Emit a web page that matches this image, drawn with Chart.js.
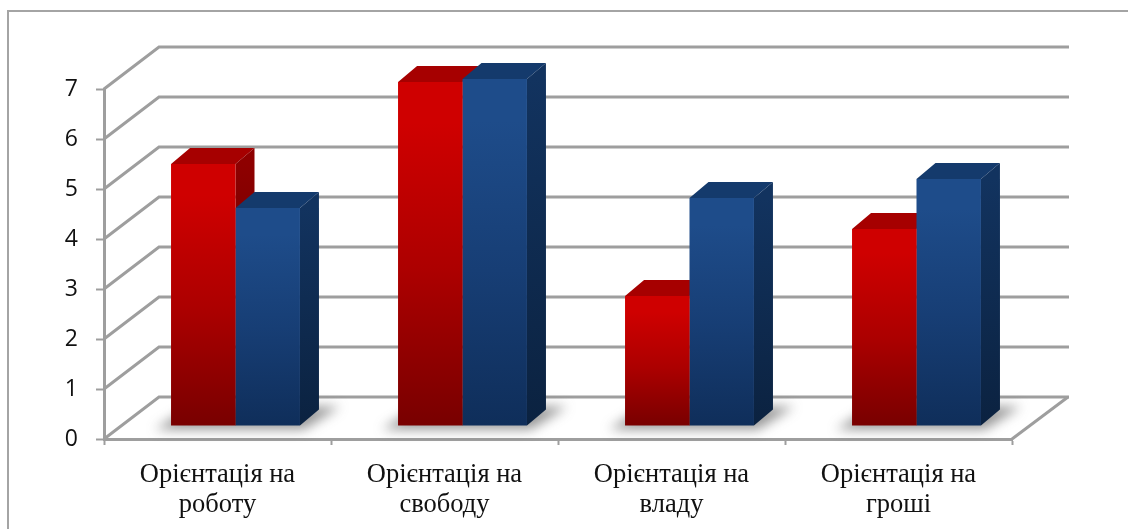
<!DOCTYPE html>
<html>
<head>
<meta charset="utf-8">
<style>
  html, body { margin: 0; padding: 0; background: #fff; }
  #wrap { width: 1128px; height: 529px; }
</style>
<script src="https://cdn.jsdelivr.net/npm/chart.js@4"></script>
</head>
<body>
<div id="wrap"><canvas id="barChart" width="1128" height="529"></canvas></div>
<script>
const categories = [
  ["Орієнтація на", "роботу"],
  ["Орієнтація на", "свободу"],
  ["Орієнтація на", "владу"],
  ["Орієнтація на", "гроші"]
];
const redValues = [5.24, 6.88, 2.6, 3.94];
const blueValues = [4.36, 6.94, 4.56, 4.94];

const lineGrey = "#9e9e9e";

// 3d look: how far the back wall and the bars sit from the front plane
const wallX = 55, wallY = 42;
const barShiftX = 18, barShiftY = 13;
const depthX = 19, depthY = 16;

const faces = [
  { cap: "#a60000", sideTop: "#8e0000", sideBottom: "#520000" },
  { cap: "#143a6c", sideTop: "#12335f", sideBottom: "#0b2240" }
];

function poly(ctx, pts, fill) {
  ctx.beginPath();
  pts.forEach((p, i) => (i ? ctx.lineTo(p[0], p[1]) : ctx.moveTo(p[0], p[1])));
  ctx.closePath();
  ctx.fillStyle = fill;
  ctx.fill();
}

function barGradient(context, top, mid, bottom) {
  const { chart, parsed } = context;
  if (!chart.chartArea || !parsed) return top;
  const y = chart.scales.y;
  const g = chart.ctx.createLinearGradient(0, y.getPixelForValue(parsed.y), 0, y.getPixelForValue(0));
  g.addColorStop(0, top);
  g.addColorStop(0.12, top);
  g.addColorStop(0.55, mid);
  g.addColorStop(1, bottom);
  return g;
}

const walls3d = {
  id: "walls3d",
  beforeDatasetsDraw(chart) {
    const { ctx, chartArea: a, scales } = chart;
    ctx.save();

    // frame round the picture
    ctx.strokeStyle = "#a4a4a4";
    ctx.lineWidth = 2;
    ctx.beginPath();
    ctx.moveTo(8, 529);
    ctx.lineTo(8, 11);
    ctx.lineTo(1128, 11);
    ctx.stroke();

    // back wall grid lines
    ctx.strokeStyle = lineGrey;
    ctx.lineWidth = 3;
    scales.y.ticks.forEach((t) => {
      const y = scales.y.getPixelForValue(t.value);
      ctx.beginPath();
      ctx.moveTo(a.left, y);
      ctx.lineTo(a.left + wallX, y - wallY);
      ctx.lineTo(a.right + wallX + 2, y - wallY);
      ctx.stroke();
    });
    const y0 = scales.y.getPixelForValue(0);
    ctx.beginPath();
    ctx.moveTo(a.right, y0);
    ctx.lineTo(a.right + wallX + 1, y0 - wallY);
    ctx.stroke();

    // floor shadows
    const red = chart.getDatasetMeta(0).data;
    const blue = chart.getDatasetMeta(1).data;
    ctx.save();
    ctx.filter = "blur(6px)";
    red.forEach((r, i) => {
      const b = blue[i];
      const l = r.x - r.width / 2 + barShiftX;
      const rt = b.x + b.width / 2 + barShiftX;
      const yb = r.base - barShiftY;
      poly(ctx, [[l - 16, yb + 4], [rt + 4, yb + 4], [rt + 40, yb - 19], [l + 20, yb - 19]], "rgba(70,70,70,0.55)");
    });
    ctx.restore();

    // caps and side faces, red first so blue overlaps it
    [red, blue].forEach((bars, d) => {
      const f = faces[d];
      bars.forEach((bar) => {
        const l = bar.x - bar.width / 2 + barShiftX;
        const rt = bar.x + bar.width / 2 + barShiftX;
        const top = bar.y - barShiftY;
        const bot = bar.base - barShiftY;
        poly(ctx, [[l, top], [l + depthX, top - depthY], [rt + depthX, top - depthY], [rt, top]], f.cap);
        const g = ctx.createLinearGradient(0, top, 0, bot);
        g.addColorStop(0, f.sideTop);
        g.addColorStop(1, f.sideBottom);
        poly(ctx, [[rt, top], [rt + depthX, top - depthY], [rt + depthX, bot - depthY], [rt, bot]], g);
      });
    });
    ctx.restore();

    // front faces are drawn by the library, moved back off the front plane
    ctx.save();
    ctx.translate(barShiftX, -barShiftY);
  },
  afterDatasetsDraw(chart) {
    chart.ctx.restore();
  }
};

new Chart(document.getElementById("barChart"), {
  type: "bar",
  plugins: [walls3d],
  data: {
    labels: categories,
    datasets: [
      {
        label: "Ряд 1",
        data: redValues,
        clip: false,
        backgroundColor: (c) => barGradient(c, "#cf0000", "#ac0000", "#780000")
      },
      {
        label: "Ряд 2",
        data: blueValues,
        clip: false,
        backgroundColor: (c) => barGradient(c, "#1e4c8a", "#173e75", "#0f2e5a")
      }
    ]
  },
  options: {
    responsive: false,
    animation: false,
    events: [],
    layout: { padding: { top: 89, right: 116, left: 0, bottom: 0 } },
    plugins: {
      legend: { display: false },
      tooltip: { enabled: false }
    },
    datasets: { bar: { categoryPercentage: 0.568, barPercentage: 1 } },
    scales: {
      x: {
        afterFit: (s) => { s.height = 90; },
        grid: { drawOnChartArea: false, tickLength: 6, tickColor: lineGrey, tickWidth: 2 },
        border: { color: lineGrey, width: 3 },
        ticks: {
          maxRotation: 0,
          padding: 15,
          color: "#111",
          font: { family: "'Liberation Serif'", size: 26.5, lineHeight: 1.13 }
        }
      },
      y: {
        min: 0,
        max: 7,
        afterFit: (s) => { s.width = 104; },
        grid: { drawOnChartArea: false, tickLength: 8, tickColor: lineGrey, tickWidth: 2 },
        border: { color: lineGrey, width: 3 },
        ticks: {
          stepSize: 1,
          padding: 18,
          color: "#111",
          font: { family: "Open Sans", size: 23 }
        }
      }
    }
  }
});
</script>
</body>
</html>
